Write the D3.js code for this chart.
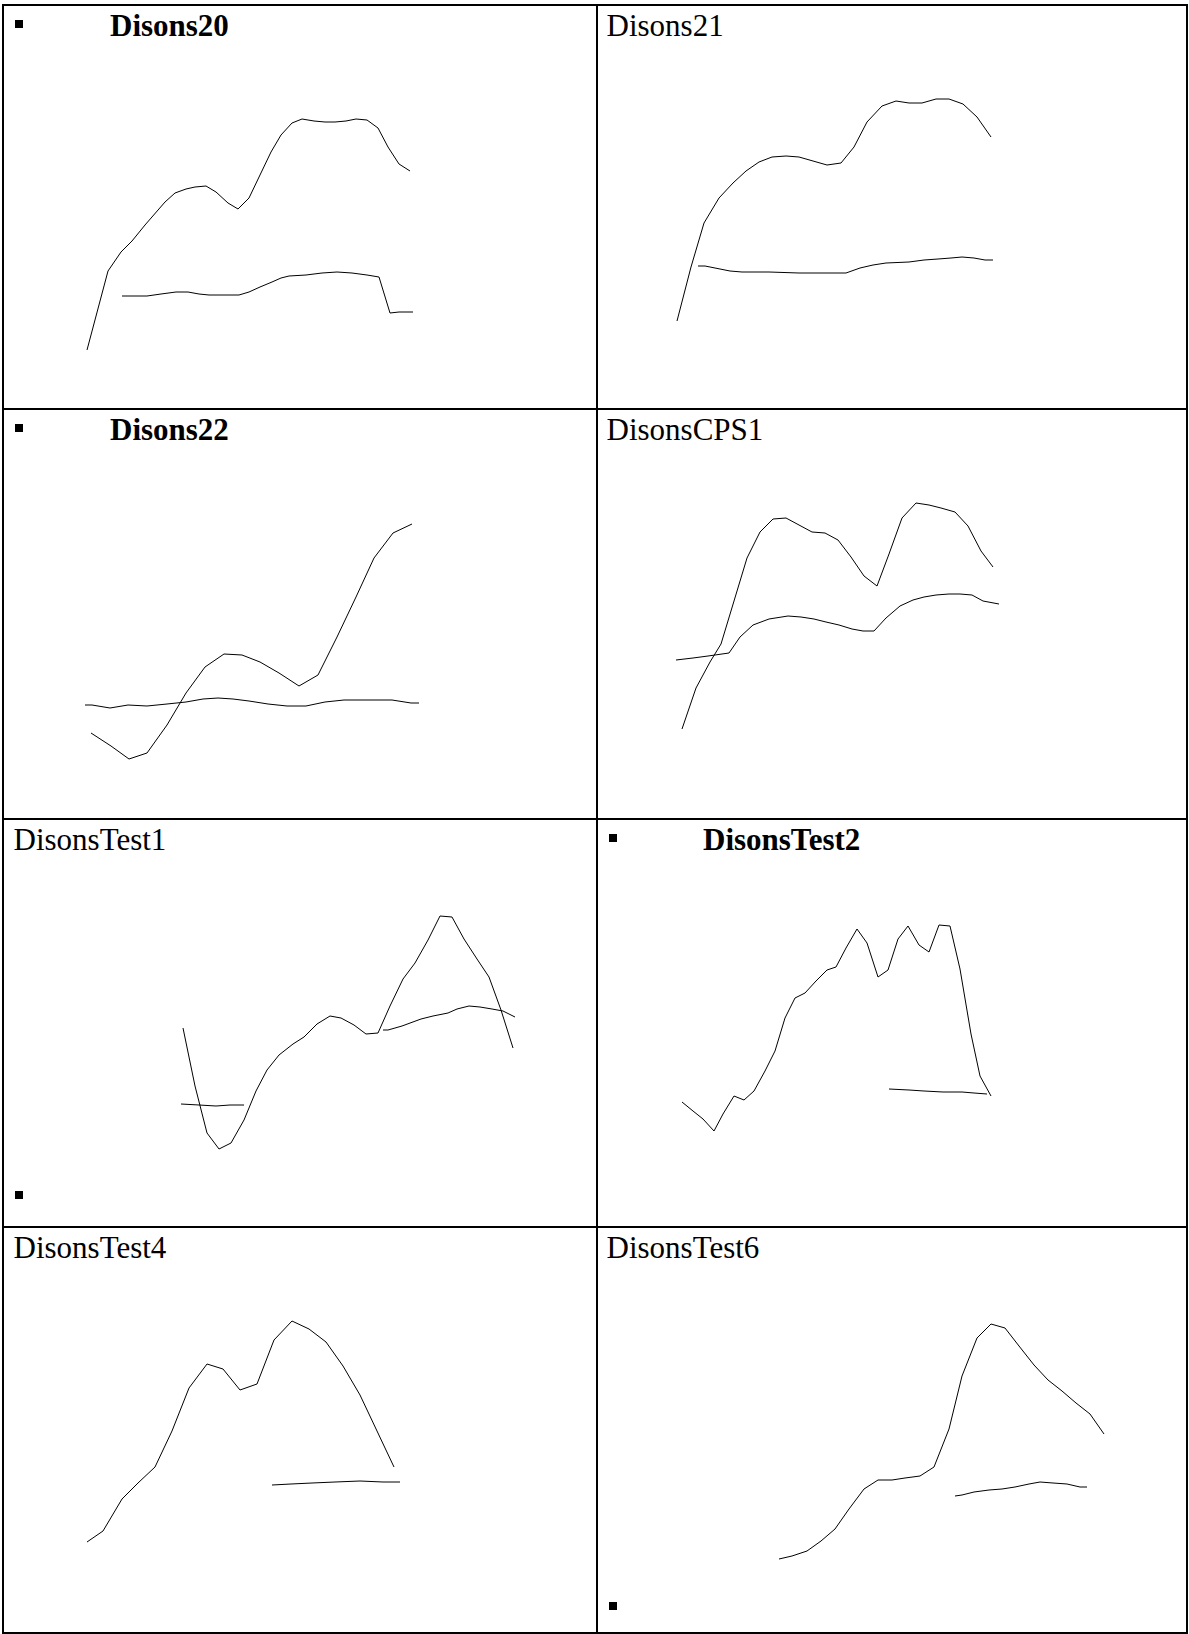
<!DOCTYPE html>
<html>
<head>
<meta charset="utf-8">
<script src="https://cdn.jsdelivr.net/npm/d3@7"></script>
<style>
  html, body { margin: 0; padding: 0; background: #fff; }
  svg { display: block; }
</style>
</head>
<body>
<script>
// ---------- data ----------
const titles = ["Disons20", "Disons21", "Disons22", "DisonsCPS1", "DisonsTest1", "DisonsTest2", "DisonsTest4", "DisonsTest6"];
const boldTitle = [true, false, true, false, false, true, false, false];
const bulletTop = [true, false, true, false, false, true, false, false];
const bulletBottom = [false, false, false, false, true, false, false, true];

// Disons20
const d20AX = [8.3, 10.4, 11.7, 12.8, 14.1, 16.1, 17.1, 18.2, 19.1, 20.2, 21.2, 22.4, 23.4, 24.5, 25.6, 26.7, 27.7, 28.8, 29.8, 31.0, 32.1, 33.1, 34.2, 35.2, 36.3, 37.4, 38.4, 39.5, 40.6];
const d20AY = [5.5, 13.4, 15.3, 16.4, 18.0, 20.3, 21.2, 21.6, 21.8, 21.9, 21.3, 20.2, 19.6, 20.7, 23.0, 25.3, 27.0, 28.2, 28.6, 28.4, 28.3, 28.3, 28.4, 28.6, 28.5, 27.7, 25.8, 24.1, 23.4];
const d20BX = [11.8, 13.2, 14.3, 15.7, 17.2, 18.4, 19.5, 20.5, 22.2, 23.5, 24.5, 25.6, 26.8, 27.7, 28.5, 30.2, 31.8, 33.3, 34.8, 36.3, 37.5, 38.6, 39.5, 40.9];
const d20BY = [10.9, 10.9, 10.9, 11.1, 11.3, 11.3, 11.1, 11.0, 11.0, 11.0, 11.3, 11.8, 12.3, 12.7, 12.9, 13.0, 13.2, 13.3, 13.2, 13.0, 12.8, 9.2, 9.3, 9.3];

// Disons21
const d21AX = [8.0, 9.4, 10.7, 12.2, 13.6, 14.9, 16.2, 17.5, 18.9, 20.2, 21.6, 23.0, 24.4, 25.7, 27.0, 28.5, 29.9, 31.2, 32.5, 33.9, 35.2, 36.6, 38.0, 39.4];
const d21AY = [8.4, 13.8, 18.2, 20.7, 22.2, 23.4, 24.3, 24.8, 24.9, 24.8, 24.4, 24.0, 24.2, 25.8, 28.3, 29.9, 30.4, 30.2, 30.2, 30.6, 30.6, 30.1, 28.8, 26.8];
const d21BX = [10.1, 10.8, 11.8, 13.3, 14.5, 17.2, 20.2, 22.5, 24.9, 26.3, 27.6, 28.9, 31.2, 32.7, 34.1, 35.4, 36.5, 37.7, 38.8, 39.6];
const d21BY = [13.9, 13.9, 13.7, 13.4, 13.3, 13.3, 13.2, 13.2, 13.2, 13.7, 14.0, 14.2, 14.3, 14.5, 14.6, 14.7, 14.8, 14.7, 14.5, 14.5];

// Disons22
const d22AX = [8.7, 10.7, 12.5, 14.3, 16.3, 18.2, 20.1, 22.0, 23.8, 25.6, 27.5, 29.5, 31.4, 33.3, 35.2, 37.0, 38.9, 40.8];
const d22AY = [7.6, 6.3, 5.0, 5.6, 8.4, 11.6, 14.2, 15.5, 15.4, 14.7, 13.6, 12.3, 13.4, 17.2, 21.2, 25.1, 27.6, 28.5];
const d22BX = [8.1, 8.8, 10.6, 12.4, 14.3, 16.3, 18.2, 19.9, 21.4, 22.9, 24.5, 26.4, 28.3, 30.2, 32.1, 34.0, 36.3, 38.8, 40.7, 41.5];
const d22BY = [10.4, 10.4, 10.1, 10.4, 10.3, 10.5, 10.7, 11.0, 11.1, 11.0, 10.8, 10.5, 10.3, 10.3, 10.7, 10.9, 10.9, 10.9, 10.6, 10.6];

// DisonsCPS1
const cps1AX = [8.5, 9.9, 11.3, 12.4, 13.7, 15.0, 16.3, 17.6, 18.9, 20.2, 21.5, 22.8, 24.1, 25.4, 26.7, 28.0, 29.2, 30.5, 31.9, 33.2, 34.4, 35.8, 37.1, 38.4, 39.6];
const cps1AY = [8.0, 12.1, 14.7, 16.5, 20.8, 25.1, 27.7, 29.0, 29.1, 28.4, 27.7, 27.6, 26.9, 25.2, 23.3, 22.3, 25.5, 29.1, 30.6, 30.4, 30.1, 29.7, 28.3, 25.8, 24.2];
const cps1BX = [7.9, 9.6, 11.1, 13.2, 14.3, 15.6, 17.2, 19.1, 20.4, 21.7, 22.9, 24.2, 25.5, 26.6, 27.7, 28.9, 30.3, 31.6, 32.7, 33.9, 35.2, 36.3, 37.5, 38.6, 40.2];
const cps1BY = [14.9, 15.1, 15.3, 15.6, 17.2, 18.4, 19.0, 19.3, 19.2, 19.0, 18.7, 18.4, 18.0, 17.8, 17.8, 19.1, 20.3, 20.9, 21.2, 21.4, 21.5, 21.5, 21.4, 20.8, 20.5];

// DisonsTest1
const t1AX = [17.9, 19.1, 20.3, 21.5, 22.7, 24.0, 25.2, 26.3, 27.5, 28.9, 30.0, 31.3, 32.6, 33.7, 35.0, 36.2, 37.4, 38.6, 39.9, 41.1, 42.4, 43.6, 44.8, 46.0, 47.3, 48.5, 49.7, 50.9];
const t1AY = [19.1, 13.3, 8.6, 7.0, 7.6, 9.9, 12.8, 14.9, 16.4, 17.5, 18.2, 19.5, 20.3, 20.1, 19.4, 18.5, 18.6, 21.3, 24.0, 25.6, 27.9, 30.3, 30.2, 28.0, 26.0, 24.2, 20.9, 17.1];
const t1BX = [17.7, 19.5, 21.2, 22.6, 24.0, 31.0, 37.9, 38.4, 39.8, 41.7, 42.9, 44.4, 45.3, 46.5, 47.6, 48.8, 49.9, 51.1];
const t1BY = [11.5, 11.4, 11.3, 11.4, 11.4, null, 18.9, 18.9, 19.3, 20.0, 20.3, 20.6, 21.0, 21.3, 21.2, 21.0, 20.8, 20.2];

// DisonsTest2
const t2AX = [8.5, 9.6, 10.6, 11.7, 12.6, 13.7, 14.7, 15.7, 16.8, 17.8, 18.8, 19.8, 20.8, 21.9, 23.0, 23.9, 24.9, 26.0, 27.0, 28.1, 29.1, 30.1, 31.1, 32.2, 33.2, 34.2, 35.3, 36.3, 37.4, 38.3, 39.4];
const t2AY = [11.7, 10.8, 10.0, 8.8, 10.5, 12.3, 11.9, 12.8, 14.8, 16.8, 20.1, 22.1, 22.6, 23.8, 24.9, 25.2, 27.1, 29.0, 27.6, 24.2, 24.9, 28.0, 29.3, 27.4, 26.7, 29.4, 29.3, 25.0, 18.5, 14.3, 12.3];
const t2BX = [29.2, 31.2, 32.7, 34.6, 36.5, 37.7, 39.0];
const t2BY = [13.0, 12.9, 12.8, 12.7, 12.7, 12.6, 12.5];

// DisonsTest4
const t4AX = [8.3, 9.9, 11.8, 13.4, 15.1, 16.8, 18.5, 20.3, 21.9, 23.6, 25.3, 27.0, 28.8, 30.5, 32.2, 33.9, 35.6, 37.3, 39.0];
const t4AY = [8.5, 9.6, 12.8, 14.4, 16.0, 19.6, 23.9, 26.3, 25.8, 23.7, 24.3, 28.7, 30.6, 29.8, 28.5, 26.1, 23.2, 19.6, 16.0];
const t4BX = [26.8, 28.7, 30.8, 33.1, 35.6, 37.9, 39.6];
const t4BY = [14.2, 14.3, 14.4, 14.5, 14.6, 14.5, 14.5];

// DisonsTest6
const t6AX = [18.2, 19.5, 21.0, 22.4, 23.8, 25.2, 26.7, 28.1, 29.5, 30.8, 32.3, 33.7, 35.2, 36.5, 38.0, 39.4, 40.8, 42.2, 43.7, 45.1, 46.5, 47.9, 49.3, 50.7];
const t6AY = [6.8, 7.1, 7.6, 8.6, 9.8, 11.8, 13.8, 14.7, 14.7, 14.9, 15.1, 16.0, 19.8, 25.1, 28.9, 30.3, 29.9, 28.1, 26.2, 24.7, 23.6, 22.4, 21.3, 19.3];
const t6BX = [35.8, 36.5, 37.7, 39.2, 40.5, 41.8, 43.2, 44.3, 45.6, 47.0, 48.3, 49.0];
const t6BY = [13.1, 13.2, 13.5, 13.7, 13.8, 14.0, 14.3, 14.5, 14.4, 14.3, 14.0, 14.0];

const seriesX = [[d20AX, d20BX], [d21AX, d21BX], [d22AX, d22BX], [cps1AX, cps1BX], [t1AX, t1BX], [t2AX, t2BX], [t4AX, t4BX], [t6AX, t6BX]];
const seriesY = [[d20AY, d20BY], [d21AY, d21BY], [d22AY, d22BY], [cps1AY, cps1BY], [t1AY, t1BY], [t2AY, t2BY], [t4AY, t4BY], [t6AY, t6BY]];

// ---------- layout ----------
const W = 1189, H = 1634;
const colLines = [3, 597, 1187];
const rowLines = [5, 409, 819, 1227, 1633];
const bottomBulletOffset = [372, 372, 372, 375];

const svg = d3.select("body").append("svg")
  .attr("width", W).attr("height", H)
  .attr("viewBox", `0 0 ${W} ${H}`);

svg.append("rect").attr("width", W).attr("height", H).attr("fill", "#fff");

const cellLeft = [4, 597];
const line = d3.line()
  .defined(d => d.y != null)
  .x(d => d.sx)
  .y(d => d.sy);

titles.forEach((title, i) => {
  const col = i % 2, row = Math.floor(i / 2);
  const x0 = cellLeft[col];
  const y0 = rowLines[row];
  const g = svg.append("g");

  const x = d3.scaleLinear().domain([0, 59]).range([x0, x0 + 590]);
  const y = d3.scaleLinear().domain([0, 40]).range([y0 + 400, y0]);

  seriesX[i].forEach((xs, k) => {
    const ys = seriesY[i][k];
    const pts = xs.map((v, j) => ({ x: v, y: ys[j], sx: x(v), sy: ys[j] == null ? 0 : y(ys[j]) }));
    g.append("path")
      .attr("d", line(pts))
      .attr("fill", "none")
      .attr("stroke", "#000")
      .attr("stroke-width", 1);
  });

  const bold = boldTitle[i];
  g.append("text")
    .attr("x", x0 + (bold ? 106 : 9.5))
    .attr("y", y0 + 30.5)
    .attr("font-family", "'Liberation Serif', 'Times New Roman', serif")
    .attr("font-size", 31)
    .attr("font-weight", bold ? "bold" : "normal")
    .attr("fill", "#000")
    .text(title);

  const bx = colLines[col] + 12;
  if (bulletTop[i]) {
    g.append("rect").attr("x", bx).attr("y", y0 + 15)
      .attr("width", 8).attr("height", 8).attr("fill", "#000");
  }
  if (bulletBottom[i]) {
    g.append("rect").attr("x", bx).attr("y", y0 + bottomBulletOffset[row])
      .attr("width", 8).attr("height", 8).attr("fill", "#000");
  }
});

// table borders
const borders = svg.append("g").attr("stroke", "#000").attr("stroke-width", 2);
colLines.forEach(cx => {
  borders.append("line").attr("x1", cx).attr("x2", cx).attr("y1", rowLines[0] - 1).attr("y2", rowLines[4] + 1);
});
rowLines.forEach(ry => {
  borders.append("line").attr("x1", colLines[0] - 1).attr("x2", colLines[2] + 1).attr("y1", ry).attr("y2", ry);
});
</script>
</body>
</html>
